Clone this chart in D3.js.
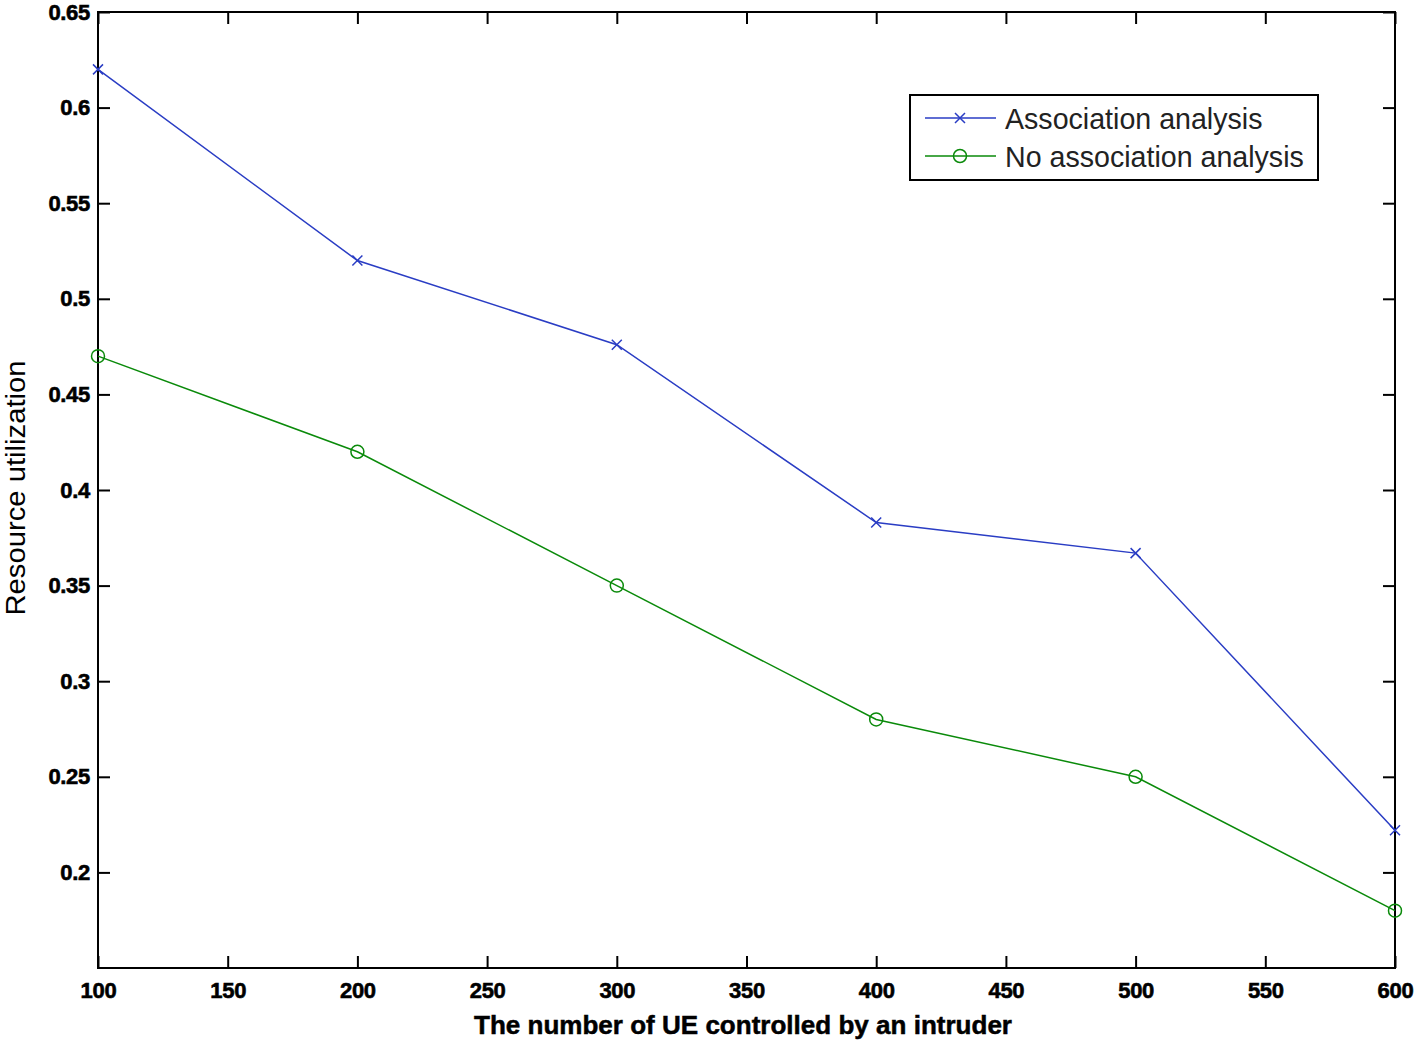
<!DOCTYPE html>
<html><head><meta charset="utf-8">
<script src="https://cdn.jsdelivr.net/npm/d3@7"></script>
<style>body{margin:0;background:#fff}svg{display:block}</style>
</head><body>
<script>
const xValues = [100, 200, 300, 400, 500, 600];
const assocValues = [0.620, 0.520, 0.476, 0.383, 0.367, 0.222];
const noAssocValues = [0.470, 0.420, 0.350, 0.280, 0.250, 0.180];
const seriesNames = ["Association analysis", "No association analysis"];
const xTicks = [100,150,200,250,300,350,400,450,500,550,600];
const yTicks = [0.2,0.25,0.3,0.35,0.4,0.45,0.5,0.55,0.6,0.65];
const yTickLabels = ["0.2","0.25","0.3","0.35","0.4","0.45","0.5","0.55","0.6","0.65"];
const xLabel = "The number of UE controlled by an intruder";
const yLabel = "Resource utilization";

const W = 1418, H = 1046;
const L = 98, R = 1395, T = 12, B = 968;
const svg = d3.select("body").append("svg").attr("width", W).attr("height", H);
const x = d3.scaleLinear().domain([100, 600]).range([L, R]);
const y = d3.scaleLinear().domain([0.15, 0.65]).range([B, T]);

const blue = "#2a3dc4", green = "#0a8a0a";
const tickFont = "'Liberation Sans', Arial, sans-serif";

// box
svg.append("rect").attr("x", L).attr("y", T).attr("width", R - L).attr("height", B - T)
  .attr("fill", "none").attr("stroke", "#000").attr("stroke-width", 2);

// axes with inward ticks
const ax = svg.append("g").attr("transform", `translate(0,${B})`)
  .call(d3.axisBottom(x).tickValues(xTicks).tickSize(-12).tickPadding(24).tickFormat(d3.format("d")));
const axTop = svg.append("g").attr("transform", `translate(0,${T})`)
  .call(d3.axisTop(x).tickValues(xTicks).tickSize(-12).tickFormat(""));
const ay = svg.append("g").attr("transform", `translate(${L},0)`)
  .call(d3.axisLeft(y).tickValues(yTicks).tickSize(-12).tickPadding(22).tickFormat((d, i) => yTickLabels[i]));
const ayR = svg.append("g").attr("transform", `translate(${R},0)`)
  .call(d3.axisRight(y).tickValues(yTicks).tickSize(-12).tickFormat(""));
[ax, axTop, ay, ayR].forEach(g => {
  g.select(".domain").remove();
  g.selectAll(".tick line").attr("stroke", "#000").attr("stroke-width", 2);
  g.selectAll("text").attr("fill", "#000").attr("stroke", "#000").attr("stroke-width", 0.6)
    .style("font-family", tickFont)
    .style("font-weight", "bold").style("font-size", "22px").attr("letter-spacing", "-0.3");
});
ax.selectAll("text").attr("dy", "0.35em").attr("y", 22);
ay.selectAll("text").attr("x", -8);

// lines
const line = d3.line().x((d, i) => x(xValues[i])).y(d => y(d));
svg.append("path").datum(assocValues).attr("d", line).attr("fill", "none")
  .attr("stroke", blue).attr("stroke-width", 1.5);
svg.append("path").datum(noAssocValues).attr("d", line).attr("fill", "none")
  .attr("stroke", green).attr("stroke-width", 1.5);

// markers
function xMark(g, cx, cy, s) {
  g.append("path").attr("d", `M${cx-s},${cy-s}L${cx+s},${cy+s}M${cx-s},${cy+s}L${cx+s},${cy-s}`)
    .attr("stroke", blue).attr("stroke-width", 1.5).attr("fill", "none");
}
const mk = svg.append("g");
assocValues.forEach((v, i) => xMark(mk, x(xValues[i]), y(v), 5));
noAssocValues.forEach((v, i) => mk.append("circle").attr("cx", x(xValues[i])).attr("cy", y(v)).attr("r", 6.5)
  .attr("fill", "none").attr("stroke", green).attr("stroke-width", 1.5));

// legend
const lg = svg.append("g");
lg.append("rect").attr("x", 910).attr("y", 95).attr("width", 408).attr("height", 85)
  .attr("fill", "#fff").attr("stroke", "#000").attr("stroke-width", 2);
const rows = [{name: seriesNames[0], c: blue, m: "x", yy: 118}, {name: seriesNames[1], c: green, m: "o", yy: 156}];
rows.forEach(r => {
  lg.append("line").attr("x1", 925).attr("x2", 996).attr("y1", r.yy).attr("y2", r.yy)
    .attr("stroke", r.c).attr("stroke-width", 1.5);
  if (r.m === "x") xMark(lg, 960, r.yy, 5);
  else lg.append("circle").attr("cx", 960).attr("cy", r.yy).attr("r", 6.5).attr("fill", "none")
    .attr("stroke", r.c).attr("stroke-width", 1.5);
  lg.append("text").attr("x", 1005).attr("y", r.yy + 1).attr("dy", "0.35em").text(r.name)
    .style("font-family", "'Liberation Sans', Arial, sans-serif").style("font-size", "28.6px").attr("fill", "#222");
});

// axis labels
svg.append("text").attr("x", 743).attr("y", 1025).attr("dy", "0.35em").attr("text-anchor", "middle")
  .attr("stroke", "#000").attr("stroke-width", 0.5)
  .style("font-family", tickFont).style("font-weight", "bold").style("font-size", "26px")
  .attr("textLength", 538).attr("lengthAdjust", "spacingAndGlyphs").text(xLabel);
svg.append("text").attr("transform", `translate(16,488) rotate(-90)`).attr("dy", "0.35em")
  .attr("text-anchor", "middle")
  .style("font-family", tickFont).style("font-size", "27px")
  .attr("textLength", 255).attr("lengthAdjust", "spacingAndGlyphs").text(yLabel);
</script>
</body></html>
